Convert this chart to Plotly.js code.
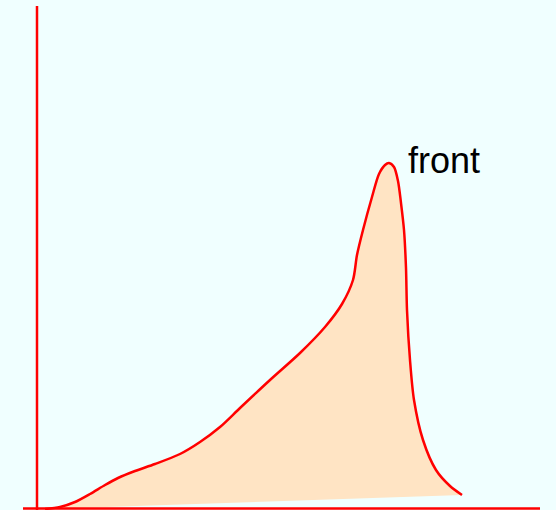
<!DOCTYPE html>
<html>
<head>
<meta charset="utf-8">
<script src="https://cdn.plot.ly/plotly-3.0.1.min.js"></script>
<style>
  html, body { margin: 0; padding: 0; background: #F0FFFF; }
  #chart { width: 556px; height: 510px; }
</style>
</head>
<body>
<div id="chart"></div>
<script>
// Outline of the "front" profile: position along the base, height above it
const profileX = [8, 23, 38, 53, 68, 81, 98, 118, 143, 163, 183, 203, 233, 263, 288, 305, 316,
                  320, 326, 335, 342, 348, 352, 357, 361, 364, 367, 369, 370, 373, 377, 386, 399, 413, 425];
const profileY = [-1, 1, 6, 14, 23, 30, 37, 44, 54, 66, 81, 100, 128, 155, 181, 204, 228,
                  253, 278, 311, 334, 343, 345, 341, 327, 305, 278, 240, 198, 148, 108, 68, 38, 22, 13];

const labelText = 'front';
const labelX = 369;
const labelY = 348;

const trace = {
  x: profileX,
  y: profileY,
  type: 'scatter',
  mode: 'lines',
  fill: 'toself',
  fillcolor: '#FFE4C4',
  line: { color: '#FF0000', width: 2.5, shape: 'spline', smoothing: 0.8 },
  hoverinfo: 'skip',
  showlegend: false
};

const layout = {
  width: 556,
  height: 510,
  margin: { l: 0, r: 0, t: 0, b: 0, pad: 0 },
  paper_bgcolor: '#F0FFFF',
  plot_bgcolor: '#F0FFFF',
  xaxis: { range: [-37, 519], visible: false, fixedrange: true },
  yaxis: { range: [-2, 508], visible: false, fixedrange: true },
  shapes: [
    // vertical axis
    { type: 'line', xref: 'x', yref: 'y', x0: 0, x1: 0, y0: -2, y1: 502,
      line: { color: '#FF0000', width: 2.5 } },
    // horizontal axis
    { type: 'line', xref: 'x', yref: 'y', x0: -14, x1: 503, y0: -0.5, y1: -0.5,
      line: { color: '#FF0000', width: 2.5 } }
  ],
  annotations: [
    { x: labelX, y: labelY, xref: 'x', yref: 'y', text: labelText, showarrow: false,
      xanchor: 'left', yanchor: 'middle',
      font: { family: 'Liberation Sans, Arial, sans-serif', size: 36, color: '#000000' } }
  ]
};

Plotly.newPlot('chart', [trace], layout, { displayModeBar: false, staticPlot: true });
</script>
</body>
</html>
